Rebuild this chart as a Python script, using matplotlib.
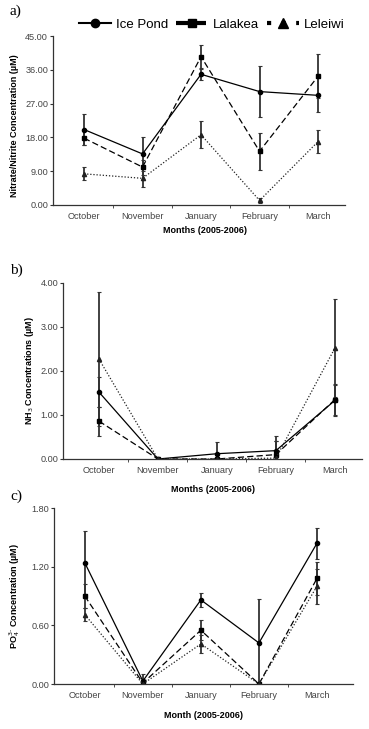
import matplotlib
matplotlib.use('Agg')
import matplotlib.pyplot as plt
from matplotlib.lines import Line2D
from matplotlib.ticker import FormatStrFormatter

plt.rcParams['font.family'] = ['Liberation Sans', 'DejaVu Sans']

months = ['October', 'November', 'January', 'February', 'March']
sites = ['Ice Pond', 'Lalakea', 'Leleiwi']

# a) nitrate/nitrite (uM)
no3_ice = [20.1, 13.6, 34.8, 30.2, 29.2]
no3_ice_err = [4.2, 4.6, 1.5, 6.8, 4.5]
no3_lal = [17.8, 10.1, 39.5, 14.3, 34.3]
no3_lal_err = [1.8, 2.0, 3.1, 4.9, 5.8]
no3_lel = [8.3, 7.1, 18.7, 1.2, 16.9]
no3_lel_err = [1.7, 2.4, 3.6, 0.7, 3.0]

# b) NH3 (uM)
nh3_ice = [1.52, 0.0, 0.12, 0.19, 1.33]
nh3_ice_err = [0.34, 0.0, 0.26, 0.33, 0.36]
nh3_lal = [0.86, 0.0, 0.0, 0.10, 1.35]
nh3_lal_err = [0.33, 0.0, 0.0, 0.30, 0.36]
nh3_lel = [2.27, 0.0, 0.0, 0.02, 2.52]
nh3_lel_err = [1.53, 0.0, 0.0, 0.40, 1.12]

# c) PO4 (uM)
po4_ice = [1.24, 0.03, 0.86, 0.42, 1.44]
po4_ice_err = [0.32, 0.07, 0.07, 0.45, 0.16]
po4_lal = [0.90, 0.01, 0.55, 0.0, 1.08]
po4_lal_err = [0.12, 0.03, 0.10, 0.0, 0.17]
po4_lel = [0.71, 0.0, 0.41, 0.0, 1.00]
po4_lel_err = [0.07, 0.0, 0.09, 0.0, 0.18]

styles = [
    dict(marker='o', linestyle='-', dashes=(None, None), color='black'),
    dict(marker='s', linestyle='--', dashes=(5, 2.5), color='black'),
    dict(marker='^', linestyle=':', dashes=(1, 1.5), color='#222222'),
]

W, H = 369, 729
fig = plt.figure(figsize=(W / 100, H / 100), dpi=100)


def px_axes(l, t, r, b):
    return fig.add_axes([l / W, 1 - b / H, (r - l) / W, (b - t) / H])


def draw_panel(ax, series, errs, ymax, ystep, xlim):
    x = list(range(len(months)))
    for (vals, err, st) in zip(series, errs, styles):
        kw = dict(color=st['color'], marker=st['marker'], markersize=3,
                  linewidth=0.9, linestyle=st['linestyle'])
        if st['dashes'][0] is not None:
            kw['dashes'] = st['dashes']
        ax.errorbar(x, vals, yerr=err, ecolor='#333333', elinewidth=1.3,
                    capsize=1.2, capthick=0.8, **kw)
    ax.set_xlim(*xlim)
    ax.set_ylim(0, ymax)
    yt = [i * ystep for i in range(int(round(ymax / ystep)) + 1)]
    ax.set_yticks(yt)
    ax.yaxis.set_major_formatter(FormatStrFormatter('%.2f'))
    ax.set_xticks(x)
    ax.set_xticklabels(months)
    ax.set_xticks([0.5, 1.5, 2.5, 3.5], minor=True)
    ax.tick_params(axis='x', which='major', length=0, pad=5)
    ax.tick_params(axis='x', which='minor', length=2.5, color='#333333')
    ax.tick_params(axis='y', length=2.5, color='#333333', pad=1)
    ax.tick_params(labelsize=6.6, labelcolor='#444444')
    for s in ['top', 'right']:
        ax.spines[s].set_visible(False)
    for s in ['left', 'bottom']:
        ax.spines[s].set_color('#333333')
        ax.spines[s].set_linewidth(0.9)


# panel a
ax1 = px_axes(53, 36, 345, 205)
draw_panel(ax1, [no3_ice, no3_lal, no3_lel], [no3_ice_err, no3_lal_err, no3_lel_err],
           45, 9, (-0.53, 4.46))
fig.text(15 / W, 1 - 126 / H, 'Nitrate/Nitrite Concentration (\u00b5M)', rotation=90,
         ha='center', va='center', fontsize=6.5, fontweight='bold')
fig.text(205 / W, 1 - 230 / H, 'Months (2005-2006)', ha='center', va='center',
         fontsize=6.5, fontweight='bold')

# panel b
ax2 = px_axes(63, 283, 362, 459)
draw_panel(ax2, [nh3_ice, nh3_lal, nh3_lel], [nh3_ice_err, nh3_lal_err, nh3_lel_err],
           4, 1, (-0.61, 4.46))
fig.text(30 / W, 1 - 371 / H, 'NH$_3$ Concentrations (\u00b5M)', rotation=90,
         ha='center', va='center', fontsize=6.5, fontweight='bold')
fig.text(213 / W, 1 - 489 / H, 'Months (2005-2006)', ha='center', va='center',
         fontsize=6.5, fontweight='bold')

# panel c
ax3 = px_axes(54, 508, 353, 684)
draw_panel(ax3, [po4_ice, po4_lal, po4_lel], [po4_ice_err, po4_lal_err, po4_lel_err],
           1.8, 0.6, (-0.53, 4.62))
fig.text(15 / W, 1 - 596 / H, 'PO$_4^{3\u2010}$ Concentration (\u00b5M)', rotation=90,
         ha='center', va='center', fontsize=6.5, fontweight='bold')
fig.text(203 / W, 1 - 716 / H, 'Month (2005-2006)', ha='center', va='center',
         fontsize=6.5, fontweight='bold')

# panel letters
for lbl, yy in [('a)', 11), ('b)', 270), ('c)', 496)]:
    fig.text(10 / W, 1 - yy / H, lbl, family='Liberation Serif', fontsize=11,
             ha='left', va='center')

# legend
handles = [
    Line2D([], [], color='black', marker='o', markersize=6, linewidth=1.5,
           linestyle='-'),
    Line2D([], [], color='black', marker='s', markersize=6, linewidth=3,
           linestyle='--', dashes=(3, 1.2)),
    Line2D([], [], color='black', marker='^', markersize=7, linewidth=3,
           linestyle=':', dashes=(1, 2.5)),
]
fig.legend(handles, sites, loc='center', bbox_to_anchor=(212 / W, 1 - 25 / H),
           ncol=3, frameon=False, fontsize=9.5, handlelength=2.4,
           handletextpad=0.4, columnspacing=0.6)

fig.savefig('out.png', dpi=100)
